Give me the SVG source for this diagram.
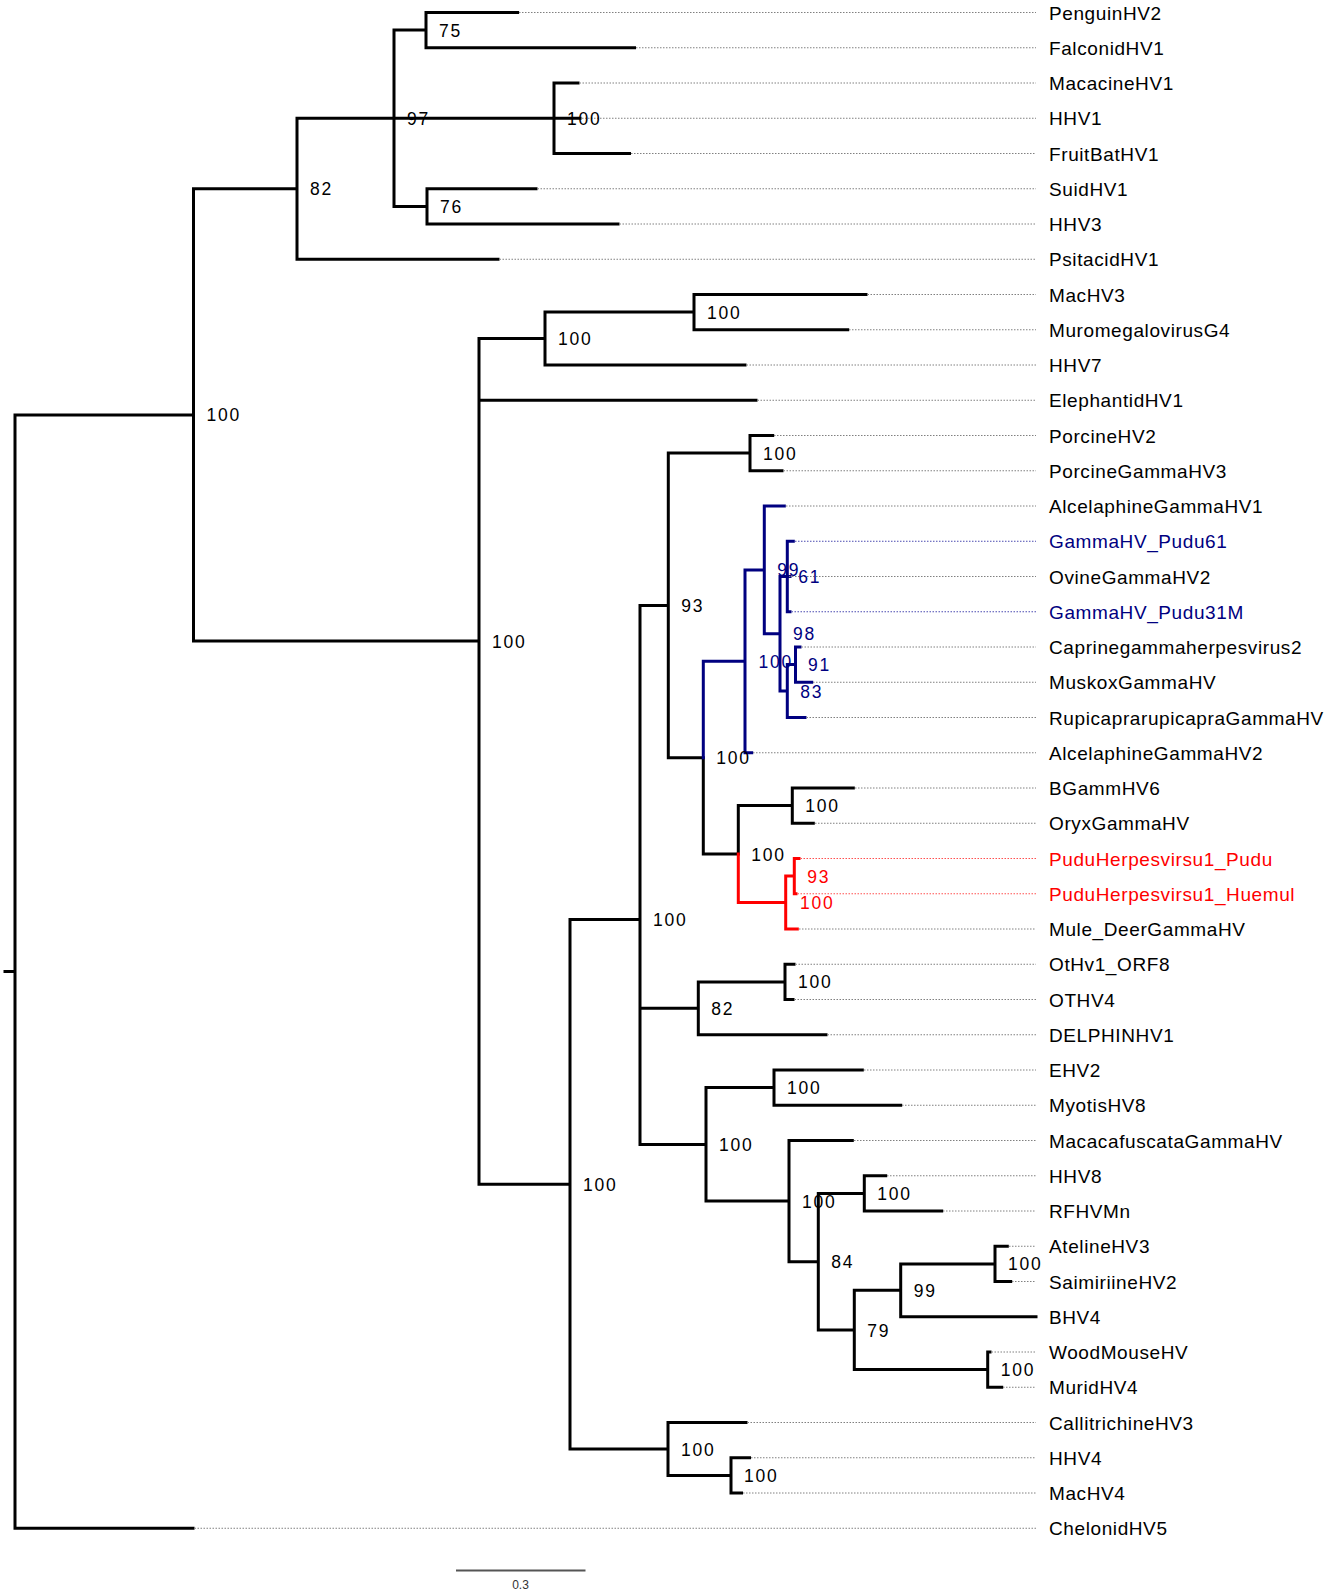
<svg xmlns="http://www.w3.org/2000/svg" width="1325" height="1594" viewBox="0 0 1325 1594">
<style>
.br{fill:none;stroke-width:3;stroke-linecap:square;stroke-linejoin:miter}
.k{stroke:#000}.b{stroke:#000080}.r{stroke:#ff0000}
.dl{fill:none;stroke:#808080;stroke-width:1;stroke-dasharray:1.5 1.5}
.dlb{stroke:#4a4ab0}.dlr{stroke:#ff5050}
.tx{font-family:"Liberation Sans",Arial,sans-serif;font-size:19px;letter-spacing:0.6px;fill:#000}
.bs{font-family:"Liberation Sans",Arial,sans-serif;font-size:17.5px;letter-spacing:1.8px;fill:#000}
.cb{fill:#000080}.cr{fill:#ff0000}
</style>
<rect width="1325" height="1594" fill="#fff"/>
<g id="connectors">
<path class="br k" d="M15 414.9V1528.25M5 971.6H15M15 414.9H193.5M15 1528.25H193
M193.5 188.75V641M193.5 188.75H297M193.5 641H479
M297 118.25V259.25M297 259.25H498M297 118.25H394
M394 30.1V206.4M394 30.1H426M394 118.25H554M394 206.4H427
M426 12.5V47.75M426 12.5H517.6M426 47.75H634.5
M554 83V153.5M554 83H578M554 118.25H580M554 153.5H629.5
M427 188.75V224M427 188.75H536M427 224H618
M479 338.6V1184.2M479 338.6H545M479 400.25H756M479 1184.2H570
M545 312.1V365M545 312.1H694M545 365H745
M694 294.5V329.75M694 294.5H866M694 329.75H847.7
M570 919.4V1449M570 919.4H640M570 1449H668
M640 605.4V1144.4M640 605.4H668.3M640 1008.3H698.3M640 1144.4H706
M668.3 453.1V757.7M668.3 453.1H750M668.3 757.7H703.3
M750 435.5V470.75M750 435.5H772.7M750 470.75H782
M703.3 757.7V854.1M703.3 854.1H738.3
M738.3 805.6V854.1M738.3 805.6H792.3
M792.3 788V823.25M792.3 788H853.3M792.3 823.25H813.3
M698.3 981.9V1034.75M698.3 981.9H785M698.3 1034.75H826
M785 964.25V999.5M785 964.25H794M785 999.5H793
M706 1087.6V1201.1M706 1087.6H774M706 1201.1H789
M774 1070V1105.25M774 1070H862.3M774 1105.25H900.7
M789 1140.5V1261.7M789 1140.5H852.3M789 1261.7H818.3
M818.3 1193.4V1330M818.3 1193.4H864.3M818.3 1330H854.3
M864.3 1175.75V1211M864.3 1175.75H885.7M864.3 1211H941.7
M854.3 1290.3V1369.6M854.3 1290.3H900.7M854.3 1369.6H987.7
M900.7 1263.9V1316.75M900.7 1263.9H995M900.7 1316.75H1036
M995 1246.25V1281.5M995 1246.25H1007.3M995 1281.5H1010.7
M987.7 1352V1387.25M987.7 1352H990M987.7 1387.25H1001.7
M668 1422.5V1475.4M668 1422.5H746M668 1475.4H731
M731 1457.75V1493M731 1457.75H749.5M731 1493H741.5"/>
<path class="br b" d="M703.3 661.3V757.7M703.3 661.3H745
M745 569.9V752.75M745 569.9H764.3M745 752.75H751.7
M764.3 506V633.8M764.3 506H784.3M764.3 633.8H780
M780 576.5V691.1M780 576.5H787.3M780 691.1H787.3
M787.3 541.25V611.75M787.3 541.25H793.3M787.3 576.5H790M787.3 611.75H790
M787.3 664.6V717.5M787.3 664.6H795.5M787.3 717.5H805
M795.5 647V682.25M795.5 647H800M795.5 682.25H811.7"/>
<path class="br r" d="M738.3 854.1V902.6M738.3 902.6H785.7
M785.7 876.1V929M785.7 876.1H794.3M785.7 929H797.3
M794.3 858.5V893.75M794.3 858.5H799M794.3 893.75H796"/>
<path class="dl" d="M519 12.5H1036M636 47.75H1036M579.5 83H1036M582 118.25H1036M631 153.5H1036M537.5 188.75H1036M619.5 224H1036M499.5 259.25H1036M867.5 294.5H1036M849 329.75H1036M746.5 365H1036M757.5 400.25H1036M774 435.5H1036M783.5 470.75H1036M786 506H1036M789 576.5H1036M801.5 647H1036M813 682.25H1036M806.5 717.5H1036M753 752.75H1036M855 788H1036M815 823.25H1036M799 929H1036M795.5 964.25H1036M794.5 999.5H1036M827.5 1034.75H1036M864 1070H1036M902 1105.25H1036M854 1140.5H1036M887 1175.75H1036M943 1211H1036M1009 1246.25H1036M1012 1281.5H1036M991.5 1352H1036M1003 1387.25H1036M747.5 1422.5H1036M751 1457.75H1036M743 1493H1036M194.5 1528.25H1036"/>
<path class="dl dlb" d="M795 541.25H1036M791.5 611.75H1036"/>
<path class="dl dlr" d="M800.5 858.5H1036M797.5 893.75H1036"/>
</g>
<g id="leaves" class="tx">
<g id="n-PenguinHV2"><text x="1049" y="19.5">PenguinHV2</text></g>
<g id="n-FalconidHV1"><text x="1049" y="54.75">FalconidHV1</text></g>
<g id="n-MacacineHV1"><text x="1049" y="90">MacacineHV1</text></g>
<g id="n-HHV1"><text x="1049" y="125.25">HHV1</text></g>
<g id="n-FruitBatHV1"><text x="1049" y="160.5">FruitBatHV1</text></g>
<g id="n-SuidHV1"><text x="1049" y="195.75">SuidHV1</text></g>
<g id="n-HHV3"><text x="1049" y="231">HHV3</text></g>
<g id="n-PsitacidHV1"><text x="1049" y="266.25">PsitacidHV1</text></g>
<g id="n-MacHV3"><text x="1049" y="301.5">MacHV3</text></g>
<g id="n-MuromegalovirusG4"><text x="1049" y="336.75">MuromegalovirusG4</text></g>
<g id="n-HHV7"><text x="1049" y="372">HHV7</text></g>
<g id="n-ElephantidHV1"><text x="1049" y="407.25">ElephantidHV1</text></g>
<g id="n-PorcineHV2"><text x="1049" y="442.5">PorcineHV2</text></g>
<g id="n-PorcineGammaHV3"><text x="1049" y="477.75">PorcineGammaHV3</text></g>
<g id="n-AlcelaphineGammaHV1"><text x="1049" y="513">AlcelaphineGammaHV1</text></g>
<g id="n-GammaHV_Pudu61"><text class="cb" x="1049" y="548.25">GammaHV_Pudu61</text></g>
<g id="n-OvineGammaHV2"><text x="1049" y="583.5">OvineGammaHV2</text></g>
<g id="n-GammaHV_Pudu31M"><text class="cb" x="1049" y="618.75">GammaHV_Pudu31M</text></g>
<g id="n-Caprinegammaherpesvirus2"><text x="1049" y="654">Caprinegammaherpesvirus2</text></g>
<g id="n-MuskoxGammaHV"><text x="1049" y="689.25">MuskoxGammaHV</text></g>
<g id="n-RupicaprarupicapraGammaHV"><text x="1049" y="724.5">RupicaprarupicapraGammaHV</text></g>
<g id="n-AlcelaphineGammaHV2"><text x="1049" y="759.75">AlcelaphineGammaHV2</text></g>
<g id="n-BGammHV6"><text x="1049" y="795">BGammHV6</text></g>
<g id="n-OryxGammaHV"><text x="1049" y="830.25">OryxGammaHV</text></g>
<g id="n-PuduHerpesvirsu1_Pudu"><text class="cr" x="1049" y="865.5">PuduHerpesvirsu1_Pudu</text></g>
<g id="n-PuduHerpesvirsu1_Huemul"><text class="cr" x="1049" y="900.75">PuduHerpesvirsu1_Huemul</text></g>
<g id="n-Mule_DeerGammaHV"><text x="1049" y="936">Mule_DeerGammaHV</text></g>
<g id="n-OtHv1_ORF8"><text x="1049" y="971.25">OtHv1_ORF8</text></g>
<g id="n-OTHV4"><text x="1049" y="1006.5">OTHV4</text></g>
<g id="n-DELPHINHV1"><text x="1049" y="1041.75">DELPHINHV1</text></g>
<g id="n-EHV2"><text x="1049" y="1077">EHV2</text></g>
<g id="n-MyotisHV8"><text x="1049" y="1112.25">MyotisHV8</text></g>
<g id="n-MacacafuscataGammaHV"><text x="1049" y="1147.5">MacacafuscataGammaHV</text></g>
<g id="n-HHV8"><text x="1049" y="1182.75">HHV8</text></g>
<g id="n-RFHVMn"><text x="1049" y="1218">RFHVMn</text></g>
<g id="n-AtelineHV3"><text x="1049" y="1253.25">AtelineHV3</text></g>
<g id="n-SaimiriineHV2"><text x="1049" y="1288.5">SaimiriineHV2</text></g>
<g id="n-BHV4"><text x="1049" y="1323.75">BHV4</text></g>
<g id="n-WoodMouseHV"><text x="1049" y="1359">WoodMouseHV</text></g>
<g id="n-MuridHV4"><text x="1049" y="1394.25">MuridHV4</text></g>
<g id="n-CallitrichineHV3"><text x="1049" y="1429.5">CallitrichineHV3</text></g>
<g id="n-HHV4"><text x="1049" y="1464.75">HHV4</text></g>
<g id="n-MacHV4"><text x="1049" y="1500">MacHV4</text></g>
<g id="n-ChelonidHV5"><text x="1049" y="1535.25">ChelonidHV5</text></g>
</g>
<g id="support" class="bs">
<g id="s-E"><text x="439" y="36.6">75</text></g>
<g id="s-D"><text x="407" y="124.75">97</text></g>
<g id="s-F"><text x="567" y="124.75">100</text></g>
<g id="s-G"><text x="440" y="212.9">76</text></g>
<g id="s-B"><text x="310" y="195.25">82</text></g>
<g id="s-A"><text x="206.5" y="421.4">100</text></g>
<g id="s-J"><text x="707" y="318.6">100</text></g>
<g id="s-H"><text x="558" y="345.1">100</text></g>
<g id="s-C"><text x="492" y="647.5">100</text></g>
<g id="s-R"><text x="763" y="459.6">100</text></g>
<g id="s-N"><text x="681.3" y="611.9">93</text></g>
<g id="s-V"><text class="cb" x="777.3" y="576.4">99</text></g>
<g id="s-X"><text class="cb" x="798.3" y="583">61</text></g>
<g id="s-W"><text class="cb" x="793" y="640.3">98</text></g>
<g id="s-T"><text class="cb" x="758.5" y="667.8">100</text></g>
<g id="s-Z"><text class="cb" x="808" y="671.1">91</text></g>
<g id="s-Y"><text class="cb" x="800.3" y="697.6">83</text></g>
<g id="s-S"><text x="716.3" y="764.2">100</text></g>
<g id="s-AA"><text x="805.3" y="812.1">100</text></g>
<g id="s-U"><text x="751.3" y="860.6">100</text></g>
<g id="s-AC"><text class="cr" x="807.3" y="882.6">93</text></g>
<g id="s-AB"><text class="cr" x="800" y="909.1">100</text></g>
<g id="s-K"><text x="653" y="925.9">100</text></g>
<g id="s-Q"><text x="798" y="988.4">100</text></g>
<g id="s-O"><text x="711.3" y="1014.8">82</text></g>
<g id="s-AD"><text x="787" y="1094.1">100</text></g>
<g id="s-P"><text x="719" y="1150.9">100</text></g>
<g id="s-AE"><text x="802" y="1207.6">100</text></g>
<g id="s-AG"><text x="877.3" y="1199.9">100</text></g>
<g id="s-AF"><text x="831.3" y="1268.2">84</text></g>
<g id="s-AJ"><text x="1008" y="1270.4">100</text></g>
<g id="s-AI"><text x="913.7" y="1296.8">99</text></g>
<g id="s-AH"><text x="867.3" y="1336.5">79</text></g>
<g id="s-AK"><text x="1000.7" y="1376.1">100</text></g>
<g id="s-L"><text x="681" y="1455.5">100</text></g>
<g id="s-M"><text x="744" y="1481.9">100</text></g>
<g id="s-I"><text x="583" y="1190.7">100</text></g>
</g>
<g id="scalebar">
<line x1="456" y1="1570.5" x2="585.5" y2="1570.5" stroke="#555" stroke-width="2"/>
<text x="520.5" y="1589" text-anchor="middle" font-family="Liberation Sans, Arial, sans-serif" font-size="12" fill="#333">0.3</text>
</g>
</svg>
